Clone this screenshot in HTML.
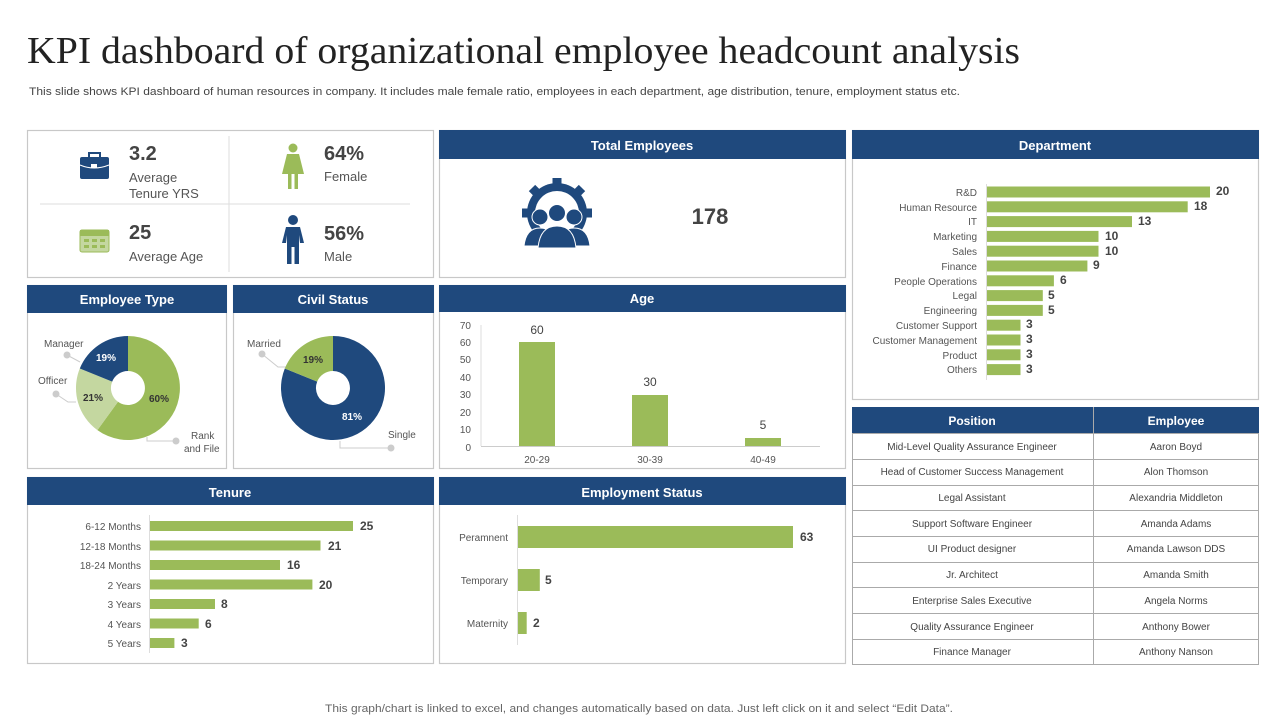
<!DOCTYPE html>
<html><head><meta charset="utf-8"><style>
body{margin:0;background:#fff;}
svg text{font-family:"Liberation Sans",sans-serif;}
</style></head><body>
<svg width="1280" height="720" viewBox="0 0 1280 720" xmlns="http://www.w3.org/2000/svg">
<text x="27" y="63" style="font-family:'Liberation Serif',serif" font-size="38" fill="#222" textLength="993" lengthAdjust="spacingAndGlyphs">KPI dashboard of organizational employee headcount analysis</text>
<text x="29" y="95" font-size="11" fill="#444" textLength="931" lengthAdjust="spacingAndGlyphs">This slide shows KPI dashboard of human resources in company. It includes male female ratio, employees in each department, age distribution, tenure, employment status etc.</text>

<g fill="none" stroke="#c8c8c8" stroke-width="1.2">
<rect x="27.5" y="130.5" width="406" height="147"/>
<rect x="439.5" y="130.5" width="406" height="147"/>
<rect x="852.5" y="130.5" width="406" height="269"/>
<rect x="27.5" y="285.5" width="199" height="183"/>
<rect x="233.5" y="285.5" width="200" height="183"/>
<rect x="439.5" y="285.5" width="406" height="183"/>
<rect x="27.5" y="477.5" width="406" height="186"/>
<rect x="439.5" y="477.5" width="406" height="186"/>
</g>
<g fill="#1f497d">
<rect x="439" y="130" width="407" height="29"/>
<rect x="852" y="130" width="407" height="29"/>
<rect x="27" y="285" width="200" height="28"/>
<rect x="233" y="285" width="201" height="28"/>
<rect x="439" y="285" width="407" height="27"/>
<rect x="27" y="477" width="407" height="28"/>
<rect x="439" y="477" width="407" height="28"/>
<rect x="852" y="407" width="407" height="26"/>
</g>
<g fill="#fff" font-size="13" font-weight="bold" text-anchor="middle">
<text x="642" y="150">Total Employees</text>
<text x="1055" y="150">Department</text>
<text x="127" y="304">Employee Type</text>
<text x="333" y="304">Civil Status</text>
<text x="642" y="303">Age</text>
<text x="230" y="497">Tenure</text>
<text x="642" y="497">Employment Status</text>
<text x="972" y="425" font-size="12">Position</text>
<text x="1176" y="425" font-size="12">Employee</text>
</g>

<!-- KPI box -->
<line x1="40" y1="204" x2="410" y2="204" stroke="#ddd"/>
<line x1="229" y1="136" x2="229" y2="272" stroke="#ddd"/>
<rect x="80" y="157" width="29" height="22" rx="2" fill="#1f497d"/>
<rect x="89" y="153" width="11" height="5" fill="none" stroke="#1f497d" stroke-width="2"/>
<path d="M80 165 Q94 171 109 165" stroke="#fff" fill="none" stroke-width="1"/>
<rect x="91" y="164" width="6" height="4" fill="#fff"/>
<text x="129" y="160" font-size="20" font-weight="bold" fill="#444">3.2</text>
<text x="129" y="182" font-size="13" fill="#555">Average</text>
<text x="129" y="198" font-size="13" fill="#555">Tenure  YRS</text>
<rect x="80" y="230" width="29" height="22" rx="2" fill="#c4d7a0" stroke="#9bbb59"/>
<rect x="80" y="230" width="29" height="6" fill="#9bbb59"/>
<g fill="#9bbb59"><rect x="84" y="239" width="5" height="3"/><rect x="92" y="239" width="5" height="3"/><rect x="100" y="239" width="5" height="3"/><rect x="84" y="245" width="5" height="3"/><rect x="92" y="245" width="5" height="3"/><rect x="100" y="245" width="5" height="3"/></g>
<text x="129" y="239" font-size="20" font-weight="bold" fill="#444">25</text>
<text x="129" y="261" font-size="13" fill="#555">Average  Age</text>
<g fill="#9bbb59"><circle cx="293" cy="148" r="4.5"/><path d="M287 154 H299 L304 174 H282 Z"/><rect x="288" y="173" width="3.5" height="16"/><rect x="294.5" y="173" width="3.5" height="16"/></g>
<text x="324" y="160" font-size="20" font-weight="bold" fill="#444">64%</text>
<text x="324" y="181" font-size="13" fill="#555">Female</text>
<g fill="#1f497d"><circle cx="293" cy="220" r="5"/><path d="M286 227 H300 L304 243 H300 L299 235 V264 H294.5 V247 H291.5 V264 H287 V235 L286 243 H282 Z"/></g>
<text x="324" y="240" font-size="20" font-weight="bold" fill="#444">56%</text>
<text x="324" y="261" font-size="13" fill="#555">Male</text>

<!-- total employees -->
<g fill="#1f497d">
<circle cx="557" cy="213" r="30"/>
<g stroke="#1f497d" stroke-width="9"><line x1="557" y1="178" x2="557" y2="248"/><line x1="522" y1="213" x2="592" y2="213"/><line x1="532" y1="188" x2="582" y2="238"/><line x1="582" y1="188" x2="532" y2="238"/></g>
<circle cx="557" cy="213" r="22" fill="#fff"/>
<circle cx="540" cy="217" r="8" stroke="#fff"/><circle cx="574" cy="217" r="8" stroke="#fff"/>
<path d="M524 246 Q526 228 540 228 Q554 228 556 246Z" stroke="#fff"/><path d="M558 246 Q560 228 574 228 Q588 228 590 246Z" stroke="#fff"/>
<circle cx="557" cy="213" r="8.5" stroke="#fff"/>
<path d="M538 248 Q540 226 557 226 Q574 226 576 248Z" stroke="#fff"/>
</g>
<text x="710" y="224" font-size="22" font-weight="bold" fill="#444" text-anchor="middle">178</text>

<!-- Employee type donut -->
<path d="M128 336 A52 52 0 1 1 97.4 430.1 L118 401.8 A17 17 0 1 0 128 371 Z" fill="#9bbb59"/>
<path d="M97.4 430.1 A52 52 0 0 1 79.8 368.5 L112.2 381.6 A17 17 0 0 0 118 401.8 Z" fill="#c4d7a0"/>
<path d="M79.8 368.5 A52 52 0 0 1 128 336 L128 371 A17 17 0 0 0 112.2 381.6 Z" fill="#1f497d"/>
<g font-size="10" font-weight="bold"><text x="96" y="361" fill="#fff">19%</text><text x="83" y="401" fill="#333">21%</text><text x="149" y="402" fill="#333">60%</text></g>
<g fill="#555" font-size="10"><text x="44" y="347">Manager</text><text x="38" y="384">Officer</text><text x="191" y="439">Rank</text><text x="184" y="452">and File</text></g>
<g fill="#ccc"><circle cx="67" cy="355" r="3.5"/><circle cx="56" cy="394" r="3.5"/><circle cx="176" cy="441" r="3.5"/><circle cx="391" cy="448" r="3.5"/><circle cx="262" cy="354" r="3.5"/></g>
<g stroke="#ccc" fill="none"><path d="M67 355 L80 362"/><path d="M56 394 L68 402 H76"/><path d="M176 441 H147 V437"/><path d="M391 448 H340 V441"/><path d="M262 354 L278 367 H287"/></g>

<!-- Civil donut -->
<path d="M333 336 A52 52 0 1 1 284.8 368.5 L317.2 381.6 A17 17 0 1 0 333 371 Z" fill="#1f497d"/>
<path d="M284.8 368.5 A52 52 0 0 1 333 336 L333 371 A17 17 0 0 0 317.2 381.6 Z" fill="#9bbb59"/>
<g font-size="10" font-weight="bold"><text x="303" y="363" fill="#333">19%</text><text x="342" y="420" fill="#fff">81%</text></g>
<g fill="#555" font-size="10"><text x="247" y="347">Married</text><text x="388" y="438">Single</text></g>

<!-- Age chart -->
<g font-size="10" fill="#555" text-anchor="end">
<text x="471" y="329">70</text><text x="471" y="346">60</text><text x="471" y="363">50</text><text x="471" y="381">40</text><text x="471" y="398">30</text><text x="471" y="416">20</text><text x="471" y="433">10</text><text x="471" y="451">0</text>
</g>
<line x1="481" y1="325" x2="481" y2="446" stroke="#ddd"/>
<line x1="481" y1="446.5" x2="820" y2="446.5" stroke="#ccc"/>
<g fill="#9bbb59"><rect x="519" y="342" width="36" height="104"/><rect x="632" y="395" width="36" height="51"/><rect x="745" y="438" width="36" height="8"/></g>
<g font-size="12" fill="#444" text-anchor="middle"><text x="537" y="334">60</text><text x="650" y="386">30</text><text x="763" y="429">5</text></g>
<g font-size="10" fill="#555" text-anchor="middle"><text x="537" y="463">20-29</text><text x="650" y="463">30-39</text><text x="763" y="463">40-49</text></g>

<!-- Department -->
<line x1="986.5" y1="184" x2="986.5" y2="380" stroke="#ddd"/>
<g fill="#9bbb59">
<rect x="987" y="186.5" width="223" height="11"/><rect x="987" y="201.3" width="200.7" height="11"/><rect x="987" y="216.1" width="145" height="11"/><rect x="987" y="230.9" width="111.5" height="11"/><rect x="987" y="245.7" width="111.5" height="11"/><rect x="987" y="260.5" width="100.4" height="11"/><rect x="987" y="275.3" width="66.9" height="11"/><rect x="987" y="290.1" width="55.8" height="11"/><rect x="987" y="304.9" width="55.8" height="11"/><rect x="987" y="319.7" width="33.5" height="11"/><rect x="987" y="334.5" width="33.5" height="11"/><rect x="987" y="349.3" width="33.5" height="11"/><rect x="987" y="364.1" width="33.5" height="11"/>
</g>
<g font-size="10" fill="#555" text-anchor="end">
<text x="977" y="196">R&amp;D</text><text x="977" y="211">Human Resource</text><text x="977" y="225">IT</text><text x="977" y="240">Marketing</text><text x="977" y="255">Sales</text><text x="977" y="270">Finance</text><text x="977" y="285">People Operations</text><text x="977" y="299">Legal</text><text x="977" y="314">Engineering</text><text x="977" y="329">Customer Support</text><text x="977" y="344">Customer Management</text><text x="977" y="359">Product</text><text x="977" y="373">Others</text>
</g>
<g font-size="12" fill="#444" font-weight="bold">
<text x="1216" y="195">20</text><text x="1194" y="210">18</text><text x="1138" y="225">13</text><text x="1105" y="240">10</text><text x="1105" y="255">10</text><text x="1093" y="269">9</text><text x="1060" y="284">6</text><text x="1048" y="299">5</text><text x="1048" y="314">5</text><text x="1026" y="328">3</text><text x="1026" y="343">3</text><text x="1026" y="358">3</text><text x="1026" y="373">3</text>
</g>

<!-- Table -->
<g fill="none" stroke="#aaa" stroke-width="1">
<rect x="852.5" y="433.5" width="406" height="231"/>
<line x1="1093.5" y1="407" x2="1093.5" y2="664"/>
<line x1="852" y1="459.5" x2="1259" y2="459.5"/><line x1="852" y1="485.5" x2="1259" y2="485.5"/><line x1="852" y1="510.5" x2="1259" y2="510.5"/><line x1="852" y1="536.5" x2="1259" y2="536.5"/><line x1="852" y1="562.5" x2="1259" y2="562.5"/><line x1="852" y1="587.5" x2="1259" y2="587.5"/><line x1="852" y1="613.5" x2="1259" y2="613.5"/><line x1="852" y1="639.5" x2="1259" y2="639.5"/>
</g>
<g font-size="10" fill="#444" text-anchor="middle">
<text x="972" y="450">Mid-Level Quality Assurance Engineer</text><text x="1176" y="450">Aaron Boyd</text>
<text x="972" y="475">Head of Customer Success Management</text><text x="1176" y="475">Alon Thomson</text>
<text x="972" y="501">Legal Assistant</text><text x="1176" y="501">Alexandria Middleton</text>
<text x="972" y="527">Support Software Engineer</text><text x="1176" y="527">Amanda Adams</text>
<text x="972" y="552">UI Product designer</text><text x="1176" y="552">Amanda Lawson DDS</text>
<text x="972" y="578">Jr. Architect</text><text x="1176" y="578">Amanda Smith</text>
<text x="972" y="604">Enterprise Sales Executive</text><text x="1176" y="604">Angela Norms</text>
<text x="972" y="630">Quality Assurance Engineer</text><text x="1176" y="630">Anthony Bower</text>
<text x="972" y="655">Finance Manager</text><text x="1176" y="655">Anthony Nanson</text>
</g>

<!-- Tenure -->
<line x1="149.5" y1="515" x2="149.5" y2="653" stroke="#ddd"/>
<g fill="#9bbb59">
<rect x="150" y="521" width="203" height="10"/><rect x="150" y="540.5" width="170.5" height="10"/><rect x="150" y="560" width="130" height="10"/><rect x="150" y="579.5" width="162.4" height="10"/><rect x="150" y="599" width="65" height="10"/><rect x="150" y="618.5" width="48.7" height="10"/><rect x="150" y="638" width="24.4" height="10"/>
</g>
<g font-size="10" fill="#555" text-anchor="end">
<text x="141" y="530">6-12 Months</text><text x="141" y="550">12-18 Months</text><text x="141" y="569">18-24 Months</text><text x="141" y="589">2 Years</text><text x="141" y="608">3 Years</text><text x="141" y="628">4 Years</text><text x="141" y="647">5 Years</text>
</g>
<g font-size="12" fill="#444" font-weight="bold">
<text x="360" y="530">25</text><text x="328" y="550">21</text><text x="287" y="569">16</text><text x="319" y="589">20</text><text x="221" y="608">8</text><text x="205" y="628">6</text><text x="181" y="647">3</text>
</g>

<!-- Employment status -->
<line x1="517.5" y1="515" x2="517.5" y2="645" stroke="#ddd"/>
<g fill="#9bbb59"><rect x="518" y="526" width="275" height="22"/><rect x="518" y="569" width="21.8" height="22"/><rect x="518" y="612" width="8.7" height="22"/></g>
<g font-size="10" fill="#555" text-anchor="end"><text x="508" y="541">Peramnent</text><text x="508" y="584">Temporary</text><text x="508" y="627">Maternity</text></g>
<g font-size="12" fill="#444" font-weight="bold"><text x="800" y="541">63</text><text x="545" y="584">5</text><text x="533" y="627">2</text></g>

<text x="325" y="712" font-size="11" fill="#666" textLength="628" lengthAdjust="spacingAndGlyphs">This graph/chart is linked to excel,  and changes automatically based on data. Just left click on it and select “Edit Data”.</text>
</svg>
</body></html>
